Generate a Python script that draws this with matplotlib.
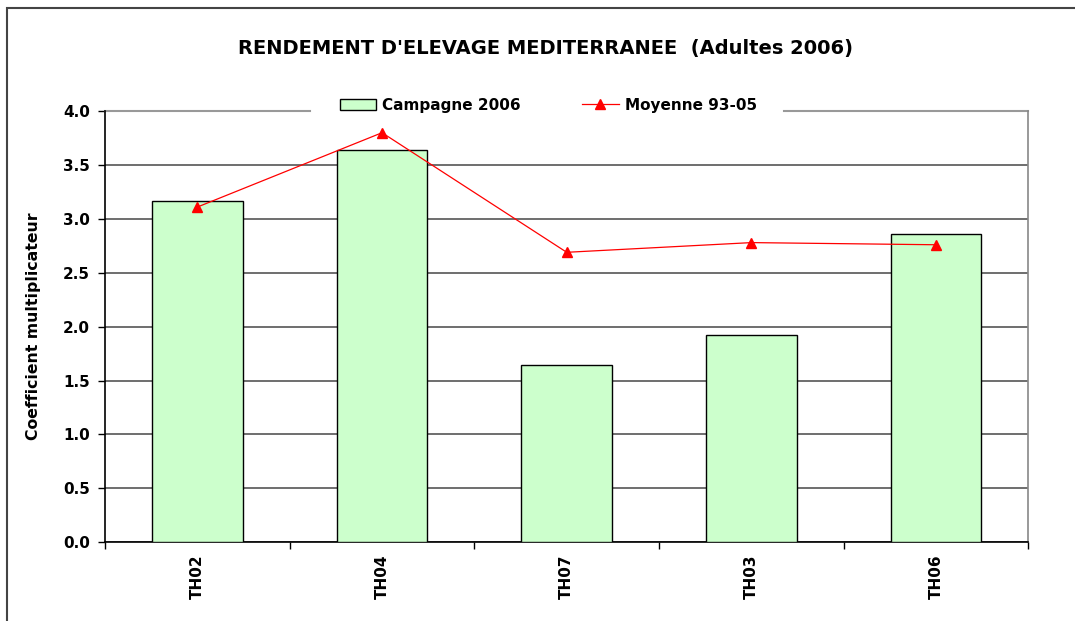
import numpy as np
import matplotlib.pyplot as plt
from matplotlib.patches import Rectangle

plt.rcParams['font.family'] = ['DejaVu Sans']
plt.rcParams['font.weight'] = 'bold'

stations = ['TH02', 'TH04', 'TH07', 'TH03', 'TH06']
campagne_2006 = [3.17, 3.64, 1.64, 1.92, 2.86]
moyenne_93_05 = [3.11, 3.80, 2.69, 2.78, 2.76]

fig = plt.figure(figsize=(10.75, 6.21), dpi=100)
ax = fig.add_axes([0.0977, 0.127, 0.859, 0.694])

# outer chart frame (only left and top are visible in the crop)
fig.patches.append(Rectangle((0.0065, -0.1), 1.2, 1.087, transform=fig.transFigure,
                             fill=False, edgecolor='#444444', linewidth=1.5))

x = np.arange(len(stations))
bars = ax.bar(x, campagne_2006, width=0.49, color='#ccffcc', edgecolor='black',
              linewidth=1.0, label='Campagne 2006', zorder=3)
line, = ax.plot(x, moyenne_93_05, color='red', marker='^', markersize=7, linewidth=0.9,
                label='Moyenne 93-05', zorder=4)

ax.set_xlim(-0.5, len(stations) - 0.5)
ax.set_ylim(0, 4.0)
yt = np.arange(0, 4.01, 0.5)
ax.set_yticks(yt)
ax.set_yticklabels([f'{v:.1f}' for v in yt], fontsize=11, fontweight='bold')
ax.yaxis.grid(True, color='#555555', linewidth=1.2, zorder=0)
ax.get_ygridlines()[-1].set_visible(False)
ax.set_axisbelow(True)

ax.set_xticks(x)
ax.set_xticklabels(stations, rotation=90, fontsize=11, fontweight='bold')
ax.tick_params(axis='x', length=0, pad=9)
ax.set_xticks(np.arange(-0.5, len(stations)), minor=True)
ax.tick_params(axis='x', which='minor', length=5, direction='out', color='black', width=1.0)
ax.tick_params(axis='y', length=5, direction='out', color='black', pad=6, width=1.0)

# top border interrupted by the legend
ax.spines['top'].set_visible(False)
ax.axhline(4.0, xmin=0, xmax=0.222, color='#999999', linewidth=1.5, clip_on=False)
ax.axhline(4.0, xmin=0.735, xmax=1, color='#999999', linewidth=1.5, clip_on=False)
ax.spines['right'].set_color('#888888')
ax.spines['right'].set_linewidth(1.2)
for side in ['left', 'bottom']:
    ax.spines[side].set_color('black')
    ax.spines[side].set_linewidth(1.2)

ax.set_ylabel('Coefficient multiplicateur', fontsize=11.3, fontweight='bold', labelpad=16)

fig.suptitle("RENDEMENT D'ELEVAGE MEDITERRANEE  (Adultes 2006)", x=0.507, y=0.937,
             fontsize=14, fontweight='bold')

leg = ax.legend([bars, line], ['Campagne 2006', 'Moyenne 93-05'],
                loc='center', bbox_to_anchor=(0.48, 1.014), ncol=2, frameon=False,
                fontsize=11, columnspacing=4.0, handlelength=2.4, handleheight=0.7,
                handletextpad=0.4, borderpad=0.2, borderaxespad=0)

fig.savefig('out.png', dpi=100)
